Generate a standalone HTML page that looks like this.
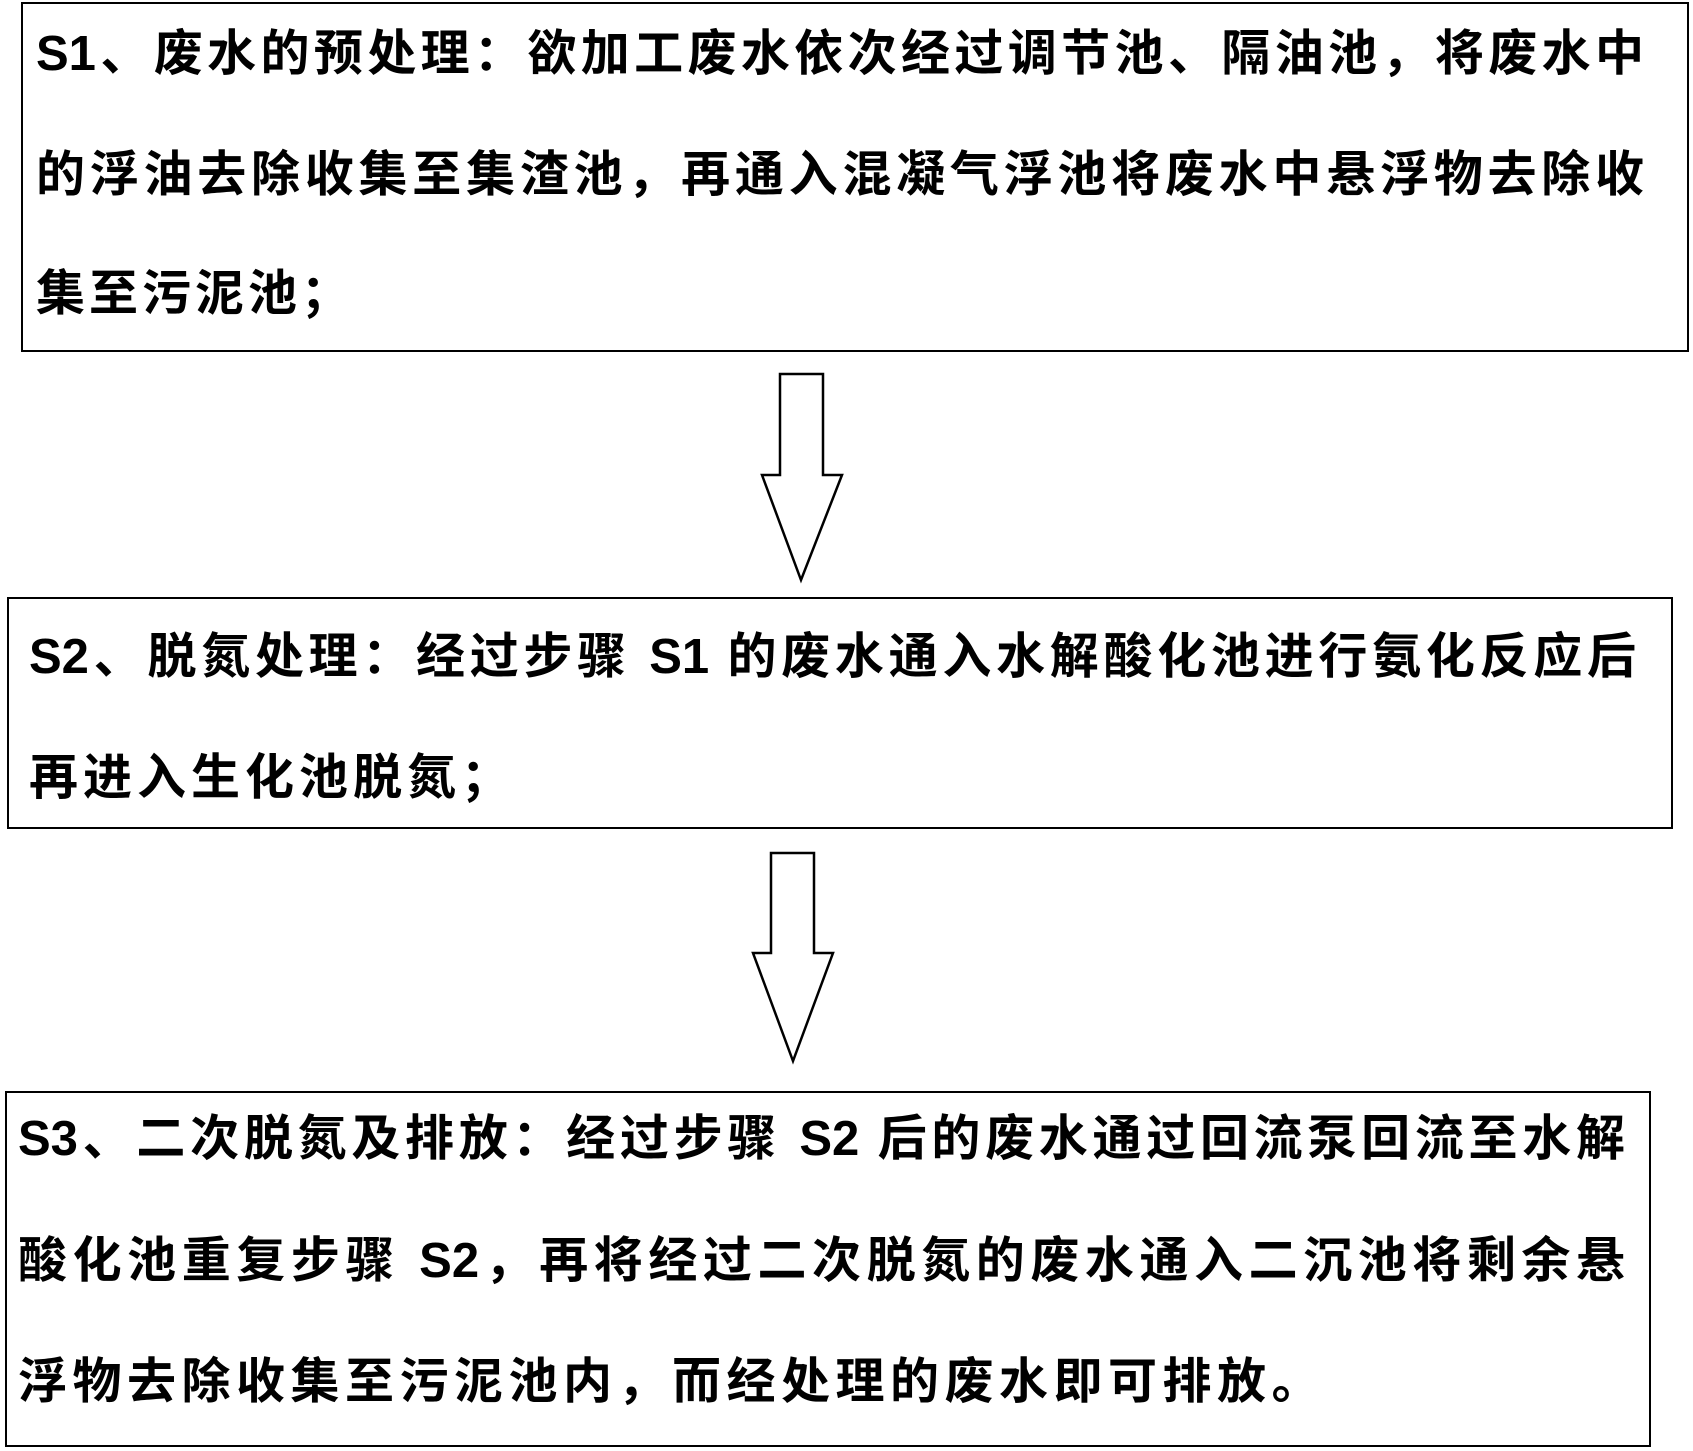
<!DOCTYPE html>
<html><head><meta charset="utf-8"><style>
html,body{margin:0;padding:0;background:#fff;}
body{width:1693px;height:1451px;position:relative;overflow:hidden;font-family:"Liberation Sans","Noto Sans CJK SC",sans-serif;}
.box{position:absolute;border:2.5px solid #000;box-sizing:border-box;}
.l{position:absolute;font-size:49px;font-weight:bold;line-height:60px;height:60px;white-space:nowrap;color:#000;overflow:visible;}
.j{text-align:justify;text-align-last:justify;}
</style></head><body>
<div class="box" style="left:21px;top:2px;width:1668px;height:350px"></div>
<div class="l j" style="left:36px;top:24px;width:1608px">S1、废水的预处理：欲加工废水依次经过调节池、隔油池，将废水中</div>
<div class="l j" style="left:36px;top:145px;width:1608px">的浮油去除收集至集渣池，再通入混凝气浮池将废水中悬浮物去除收</div>
<div class="l" style="left:36px;top:264px;letter-spacing:4px">集至污泥池；</div>

<svg style="position:absolute;left:0;top:0" width="1693" height="1451">
<polygon points="780,374 823,374 823,475 842,475 801,580 762,475 780,475" fill="#fff" stroke="#000" stroke-width="2.5"/>
<polygon points="771,853 814,853 814,953 833,953 793,1061 753,953 771,953" fill="#fff" stroke="#000" stroke-width="2.5"/>
</svg>

<div class="box" style="left:7px;top:597px;width:1666px;height:232px"></div>
<div class="l j" style="left:29px;top:627px;width:1607px">S2、脱氮处理：经过步骤 S1 的废水通入水解酸化池进行氨化反应后</div>
<div class="l" style="left:29px;top:748px;letter-spacing:5px">再进入生化池脱氮；</div>

<div class="box" style="left:5px;top:1091px;width:1646px;height:356px"></div>
<div class="l j" style="left:18px;top:1109px;width:1607px">S3、二次脱氮及排放：经过步骤 S2 后的废水通过回流泵回流至水解</div>
<div class="l j" style="left:18px;top:1231px;width:1607px">酸化池重复步骤 S2，再将经过二次脱氮的废水通入二沉池将剩余悬</div>
<div class="l" style="left:18px;top:1352px;letter-spacing:5.5px">浮物去除收集至污泥池内，而经处理的废水即可排放。</div>
</body></html>
